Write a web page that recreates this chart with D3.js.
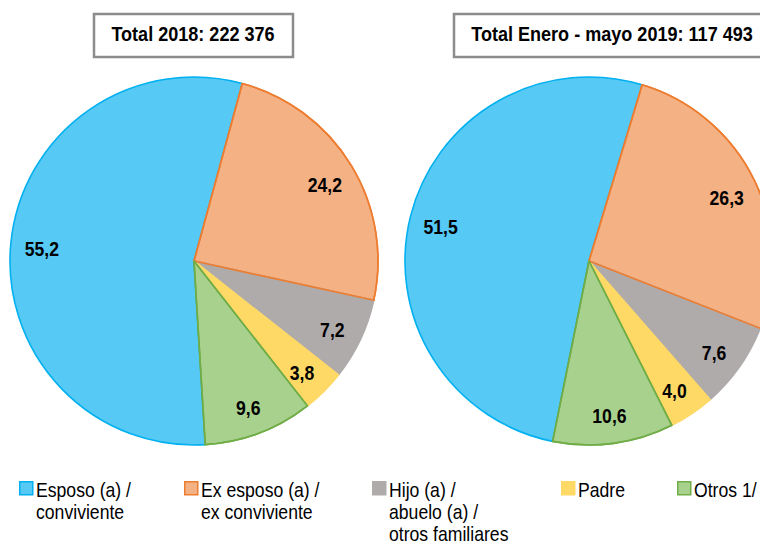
<!DOCTYPE html>
<html>
<head>
<meta charset="utf-8">
<script src="https://cdnjs.cloudflare.com/ajax/libs/d3/7.8.5/d3.min.js"></script>
<style>
  html, body { margin: 0; padding: 0; background: #fff; }
  svg text { font-family: "Liberation Sans Narrow", "Arial Narrow", "Liberation Sans", Arial, sans-serif; }
</style>
</head>
<body>
<div id="chart"></div>
<script>
// data
var categories = ["Esposo (a) / conviviente", "Ex esposo (a) / ex conviviente",
                  "Hijo (a) / abuelo (a) / otros familiares", "Padre", "Otros 1/"];
var legend_lines = [["Esposo (a) /", "conviviente"],
                    ["Ex esposo (a) /", "ex conviviente"],
                    ["Hijo (a) /", "abuelo (a) /", "otros familiares"],
                    ["Padre"],
                    ["Otros 1/"]];
var values_2018 = [55.2, 24.2, 7.2, 3.8, 9.6];
var values_2019 = [51.5, 26.3, 7.6, 4.0, 10.6];
var titles = ["Total 2018: 222 376", "Total Enero - mayo 2019: 117 493"];

var fills   = ["#56C9F5", "#F4B183", "#AFABAB", "#FFD966", "#A9D18E"];
var strokes = ["#00B0F0", "#ED7D31", "#AFABAB", "#FFD966", "#70AD47"];

var w = 760, h = 547;
var narrow = 0.86; // squeeze the sans font into an "Arial Narrow" look

var svg = d3.select("#chart").append("svg")
            .attr("width", w)
            .attr("height", h);

var fmt = function(v){ return d3.format(".1f")(v).replace(".", ","); };

// one pie per period
var pies = [
  {vals: values_2018, cx: 194, cy: 261, r: 184, start: -183.5, title: titles[0], box: [94, 293], tx: 193},
  {vals: values_2019, cx: 589, cy: 261, r: 184, start: -168.6, title: titles[1], box: [454, 775], tx: 612}
];

pies.forEach(function(p){
  var a0 = p.start * Math.PI / 180;
  var pie = d3.pie().sort(null).startAngle(a0).endAngle(a0 + 2*Math.PI);
  var arcs = pie(p.vals);
  var arc = d3.arc().innerRadius(0).outerRadius(p.r);
  var lab_arc = d3.arc().innerRadius(153).outerRadius(153);

  var g = svg.append("g").attr("transform", "translate(" + p.cx + "," + p.cy + ")");

  g.selectAll("path.slice")
    .data(arcs)
    .enter().append("path")
    .attr("class", "slice")
    .attr("d", arc)
    .style("fill", function(d, i){ return fills[i]; })
    .style("stroke", function(d, i){ return strokes[i]; })
    .style("stroke-width", 1.6)
    .style("stroke-linejoin", "round");

  // orange and green borders sit on top of their neighbours
  g.selectAll("path.edge")
    .data(arcs.filter(function(d, i){ return i == 1 || i == 4; }))
    .enter().append("path")
    .attr("class", "edge")
    .attr("d", arc)
    .style("fill", "none")
    .style("stroke", function(d){ return strokes[d.index]; })
    .style("stroke-width", 1.6)
    .style("stroke-linejoin", "round");

  g.selectAll("g.lab")
    .data(arcs)
    .enter().append("g")
    .attr("class", "lab")
    .attr("transform", function(d){
      var c = lab_arc.centroid(d);
      return "translate(" + c[0] + "," + (c[1] + 3.5) + ") scale(" + narrow + ",1)";
    })
    .append("text")
    .attr("text-anchor", "middle")
    .attr("dominant-baseline", "central")
    .attr("font-size", 20.5)
    .attr("font-weight", "bold")
    .attr("fill", "#000")
    .text(function(d){ return fmt(d.data); });

  // title box
  svg.append("rect")
    .attr("x", p.box[0]).attr("y", 14)
    .attr("width", p.box[1] - p.box[0]).attr("height", 43)
    .style("fill", "#fff")
    .style("stroke", "#8c8c8c")
    .style("stroke-width", 2.5);

  svg.append("g")
    .attr("transform", "translate(" + p.tx + ",41) scale(" + narrow + ",1)")
    .append("text")
    .attr("text-anchor", "middle")
    .attr("font-size", 21)
    .attr("font-weight", "bold")
    .attr("fill", "#000")
    .text(p.title);
});

// legend
var legend_x = [19, 184, 372, 561, 677];
var leg = svg.selectAll("g.leg")
  .data(categories)
  .enter().append("g")
  .attr("class", "leg")
  .attr("transform", function(d, i){ return "translate(" + legend_x[i] + ",481)"; });

leg.append("rect")
  .attr("x", 0.75).attr("y", 0.75)
  .attr("width", 13).attr("height", 13)
  .style("fill", function(d, i){ return fills[i]; })
  .style("stroke", function(d, i){ return strokes[i]; })
  .style("stroke-width", 1.5);

leg.each(function(d, i){
  var t = d3.select(this).append("g")
    .attr("transform", "translate(17,15.5) scale(" + narrow + ",1)")
    .append("text")
    .attr("font-size", 20.5)
    .attr("fill", "#000");
  legend_lines[i].forEach(function(line, j){
    t.append("tspan").attr("x", 0).attr("dy", j == 0 ? 0 : 22.5).text(line);
  });
});
</script>
</body>
</html>
